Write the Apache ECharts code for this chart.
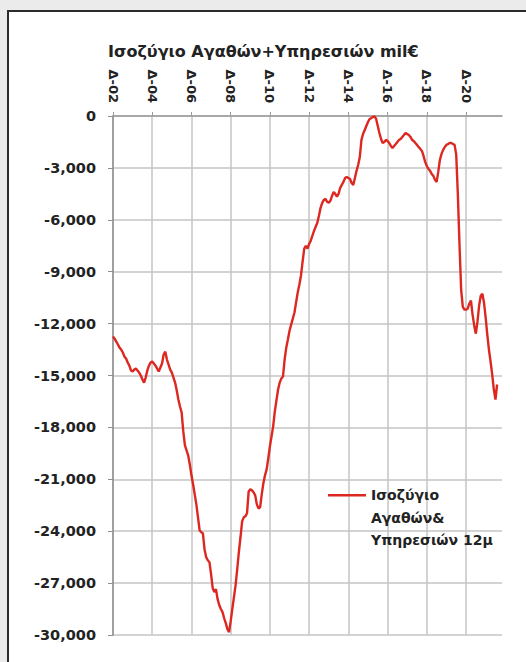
<!DOCTYPE html>
<html>
<head>
<meta charset="utf-8">
<title>Ισοζύγιο Αγαθών+Υπηρεσιών</title>
<script src="https://cdn.jsdelivr.net/npm/echarts@6/dist/echarts.min.js"></script>
<style>
body { margin: 0; background: #ebebeb; }
#frame { position: absolute; left: 7px; top: 10px; width: 519px; height: 652px; background: #fff;
         border-left: 2px solid #2b2b2b; border-top: 2px solid #2b2b2b; box-sizing: border-box; }
#main { position: absolute; left: 0; top: 0; width: 526px; height: 662px; }
</style>
</head>
<body>
<div id="frame"></div>
<div id="main"></div>
<script type="text/javascript">
// 12-month rolling balance of goods & services, mil €, monthly from Dec 2002
var startYear = 2002, startMonth = 12, monthCount = 239;
var seriesName = 'Ισοζύγιο Αγαθών& Υπηρεσιών 12μ';
var balance = [
    -12750,                                                                                   // 2002-12
    -12870, -13040, -13210, -13390, -13500, -13670, -13910, -14020, -14250, -14430, -14710, -14770, // 2003
    -14660, -14600, -14710, -14830, -15000, -15230, -15410, -15120, -14710, -14430, -14250, -14190, // 2004
    -14310, -14430, -14600, -14770, -14540, -14310, -13790, -13620, -14080, -14370, -14660, -14830, // 2005
    -15120, -15410, -15870, -16390, -16790, -17140, -18230, -19040, -19330, -19620, -20140, -20770, // 2006
    -21290, -21870, -22450, -23200, -23950, -24060, -24120, -25040, -25500, -25680, -25790, -26480, // 2007
    -27290, -27520, -27350, -27930, -28270, -28500, -28680, -29020, -29310, -29660, -29830, -29200, // 2008
    -28500, -27810, -27120, -26200, -25210, -24350, -23430, -23200, -23140, -22960, -21700, -21580, // 2009
    -21640, -21750, -21930, -22450, -22680, -22620, -21870, -21230, -20770, -20430, -19790, -19100, // 2010
    -18520, -17940, -17080, -16440, -15810, -15410, -15170, -15060, -14080, -13390, -12920, -12410, // 2011
    -12060, -11710, -11370, -10790, -10210, -9750, -9230, -8420, -7670, -7500, -7670, -7390,         // 2012
    -7210, -6920, -6640, -6400, -6170, -5770, -5310, -5020, -4850, -4790, -4960, -5020,              // 2013
    -4900, -4620, -4390, -4500, -4670, -4500, -4150, -3980, -3810, -3580, -3520, -3580,              // 2014
    -3640, -3870, -3980, -3580, -3170, -2830, -2370, -1380, -1040, -810, -580, -350,                 // 2015
    -170, -120, -60, -20, -170, -580, -980, -1330, -1560, -1500, -1380, -1440,                       // 2016
    -1560, -1730, -1850, -1730, -1620, -1500, -1380, -1330, -1210, -1100, -980, -1040,               // 2017
    -1100, -1210, -1380, -1440, -1560, -1670, -1790, -1900, -2020, -2310, -2650, -2890,              // 2018
    -3060, -3170, -3350, -3460, -3690, -3810, -3230, -2540, -2190, -1960, -1790, -1670,              // 2019
    -1620, -1560, -1560, -1620, -1670, -2250, -4560, -7440, -10040, -11020, -11190, -11190,          // 2020
    -11140, -10850, -10670, -11480, -12120, -12580, -11890, -10960, -10390, -10270, -10790, -11660,  // 2021
    -12640, -13500, -14190, -14940, -15810, -16390, -15520                                           // 2022
];
var yTicks = { min: -30000, max: 0, interval: 3000 };

// category labels: December of each year shown as Δ-yy
var months = [];
for (var i = 0; i < monthCount; i++) {
    var m = (startMonth - 1 + i) % 12 + 1;
    var y = startYear + Math.floor((startMonth - 1 + i) / 12);
    var yy = String(y % 100).padStart(2, '0');
    months.push(m === 12 ? 'Δ-' + yy : yy + '-' + m);
}

// svg renderer: grid lines went missing from the canvas snapshot
var myChart = echarts.init(document.getElementById('main'), null, { renderer: 'svg' });
var font = 'DejaVu Sans';

myChart.setOption({
    animation: false,
    title: {
        text: 'Ισοζύγιο Αγαθών+Υπηρεσιών mil€',
        left: 108,
        top: 43,
        padding: 0,
        textStyle: { fontFamily: font, fontSize: 16, fontWeight: 'bold', color: '#222' }
    },
    legend: {
        left: 328,
        top: 439,
        padding: 0,
        icon: 'rect',
        itemWidth: 38,
        itemHeight: 2.5,
        itemGap: 4,
        // two blank lines on top so the marker sits on the first text line
        formatter: function (name) {
            return '\n\n' + name.replace('& ', '&\n').replace('Ισοζύγιο ', 'Ισοζύγιο\n');
        },
        textStyle: { fontFamily: font, fontSize: 14, fontWeight: 'bold', color: '#222', lineHeight: 22.5 }
    },
    grid: { left: 113, right: 24, top: 116, bottom: 27 },
    xAxis: {
        type: 'category',
        position: 'top',
        boundaryGap: false,
        data: months,
        axisLine: { onZero: false, lineStyle: { color: '#9a9a9a', width: 1.5 } },
        axisTick: { show: true, interval: 23, length: 4, lineStyle: { color: '#9a9a9a' } },
        axisLabel: {
            interval: 23,
            rotate: 90,
            margin: 13,
            fontFamily: font,
            fontSize: 13,
            fontWeight: 'bold',
            color: '#222'
        },
        splitLine: { show: true, interval: 23, lineStyle: { color: '#c4c4c4', width: 1.5 } }
    },
    yAxis: {
        type: 'value',
        min: yTicks.min,
        max: yTicks.max,
        interval: yTicks.interval,
        axisLine: { show: true, lineStyle: { color: '#8e8e8e', width: 1.5 } },
        axisTick: { show: true, length: 5, lineStyle: { color: '#8e8e8e' } },
        axisLabel: {
            margin: 17,
            fontFamily: font,
            fontSize: 14.5,
            fontWeight: 'bold',
            color: '#222',
            formatter: function (v) { return v.toLocaleString('en-US'); }
        },
        splitLine: { lineStyle: { color: '#c4c4c4', width: 1.5 } }
    },
    series: [
        {
            name: seriesName,
            type: 'line',
            data: balance,
            showSymbol: false,
            symbol: 'none',
            itemStyle: { color: '#dc2820' },
            lineStyle: { color: '#dc2820', width: 2.4 }
        }
    ]
});
</script>
</body>
</html>
